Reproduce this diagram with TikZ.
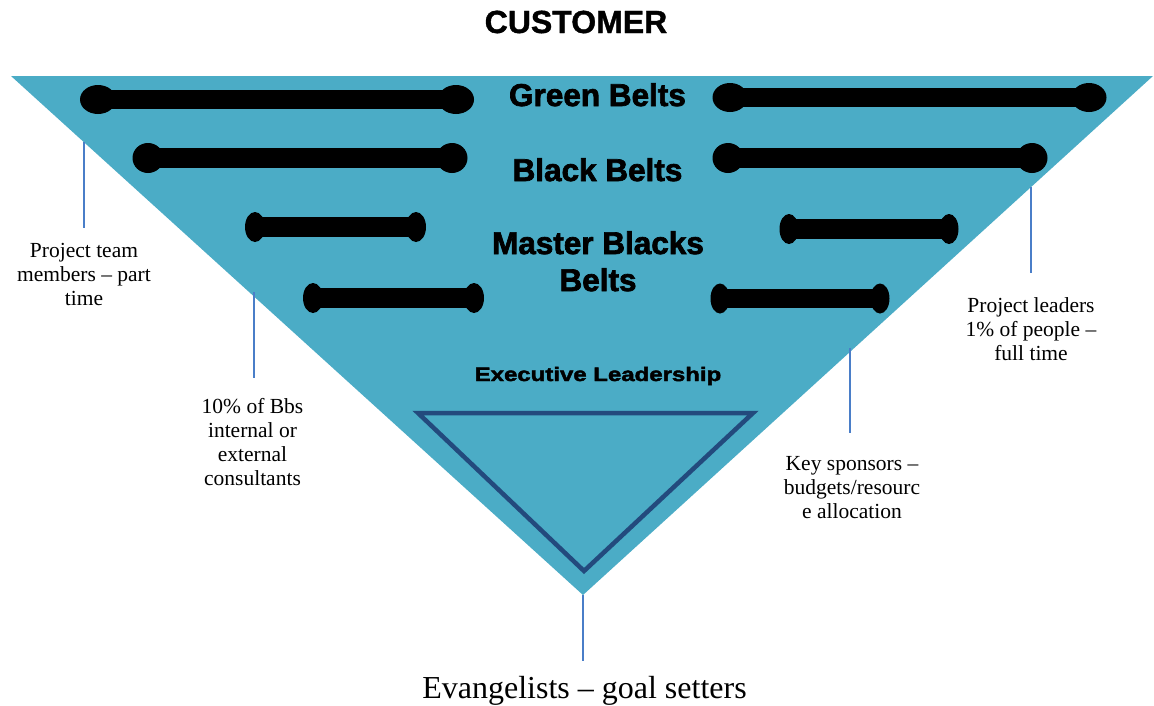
\documentclass[tikz,border=0pt]{standalone}
\usepackage{fontspec}
\setmainfont{Liberation Serif}
\newfontfamily\heavyfont[BoldFeatures={FakeBold=2.2}]{Liberation Sans}
\newfontfamily\custfont[BoldFeatures={FakeBold=1.2}]{Liberation Sans}
\newfontfamily\execfont[BoldFeatures={FakeBold=2.2,FakeStretch=1.23}]{Liberation Sans}
\usetikzlibrary{shapes.geometric}
\definecolor{tri}{HTML}{4BACC6}
\definecolor{innerline}{HTML}{234A7D}
\definecolor{leader}{HTML}{4A7EC8}
\tikzset{
  boneend/.style={ellipse, fill=black, inner sep=0pt},
  barline/.style={line width=19.5pt, draw=black},
  leaderline/.style={draw=leader, line width=1.5pt},
  callout/.style={align=center, inner sep=0pt, anchor=north, font=\fontsize{21.5}{24}\selectfont},
  beltlabel/.style={inner sep=0pt, anchor=base, font=\heavyfont\bfseries\fontsize{31.5}{36}\selectfont},
}
\begin{document}
\begin{tikzpicture}[x=1pt,y=-1pt]
\useasboundingbox (0,0) rectangle (1154,705);
\fill[white] (0,0) rectangle (1154,705);

% main inverted triangle
\coordinate (TL) at (11,76);
\coordinate (TR) at (1153,76);
\coordinate (AP) at (583,595);
\fill[tri] (TL) -- (TR) -- (AP) -- cycle;

% inner triangle
\coordinate (IL) at (418,413);
\coordinate (IR) at (753,413);
\coordinate (IA) at (584,571);
\filldraw[fill=tri, draw=innerline, line width=4.5pt, line join=miter] (IL) -- (IR) -- (IA) -- cycle;

% bone bars
\foreach \n/\a/\b/\y/\w/\h in {gl/98/456/99.5/36/29, gr/730/1089/97.5/35/29, bl/148/452/158/31/30, br/728/1032/158/31/30, ml/255/416/227/20/30, mr/789/949/229/19/30, nl/313/474/298/20/30, nr/720/880/298.5/19/30}{
  \node[boneend, minimum width=\w pt, minimum height=\h pt] (\n-a) at (\a,\y) {};
  \node[boneend, minimum width=\w pt, minimum height=\h pt] (\n-b) at (\b,\y) {};
  \draw[barline] (\n-a.center) -- (\n-b.center);
}

% titles
\node[inner sep=0pt, anchor=base, font=\custfont\bfseries\fontsize{32}{36}\selectfont] (customer) at (576,33) {CUSTOMER};
\node[beltlabel] (green) at (597.5,106) {Green Belts};
\node[beltlabel] (black) at (597.5,181) {Black Belts};
\node[beltlabel, anchor=north, align=center, font=\heavyfont\bfseries\fontsize{31.5}{37}\selectfont] (master) at (598,231) {Master Blacks\\Belts};
\node[inner sep=0pt, anchor=base, font=\execfont\bfseries\fontsize{19.5}{24}\selectfont] (exec) at (598,381) {Executive Leadership};

% callouts
\node[callout] (c1) at (84,243.5) {Project team\\members -- part\\time};
\node[callout] (c2) at (252.5,398.5) {10\% of Bbs\\internal or\\external\\consultants};
\node[callout] (c3) at (852,456.5) {Key sponsors --\\budgets/resourc\\e allocation};
\node[callout] (c4) at (1031,297.5) {Project leaders\\1\% of people --\\full time};
\node[inner sep=0pt, anchor=base, font=\fontsize{32}{36}\selectfont] (evang) at (584.5,698) {Evangelists -- goal setters};

% leader lines
\coordinate (l1t) at (84,142);   \coordinate (l1b) at (84,228);
\coordinate (l2t) at (254,292);  \coordinate (l2b) at (254,378);
\coordinate (l3t) at (850,348);  \coordinate (l3b) at (850,433);
\coordinate (l4t) at (1031,187); \coordinate (l4b) at (1031,273);
\coordinate (l5b) at (583,661);
\draw[leaderline] (l1t) -- (l1b);
\draw[leaderline] (l2t) -- (l2b);
\draw[leaderline] (l3t) -- (l3b);
\draw[leaderline] (l4t) -- (l4b);
\draw[leaderline] (AP) -- (l5b);
\end{tikzpicture}
\end{document}
